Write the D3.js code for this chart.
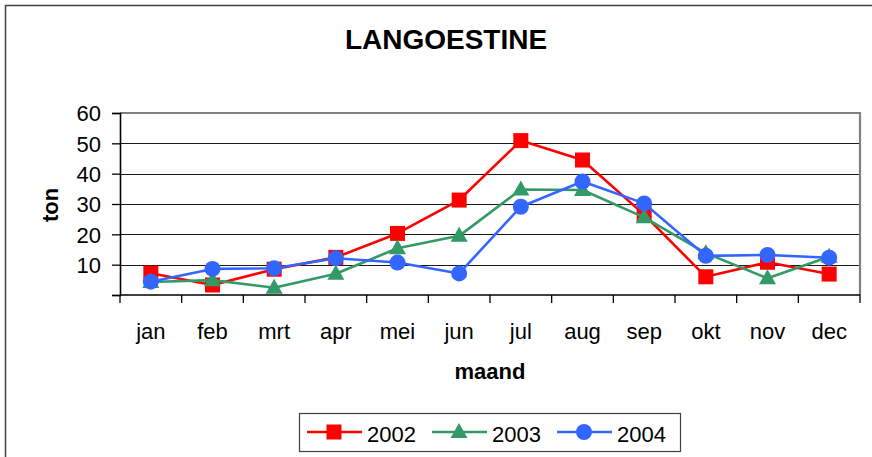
<!DOCTYPE html>
<html><head><meta charset="utf-8">
<script src="https://cdn.jsdelivr.net/npm/d3@7"></script>
<style>body{margin:0;background:#fff}svg{display:block}text{font-family:"Liberation Sans",Arial,sans-serif;fill:#000}</style>
</head><body><svg id="c" width="872" height="457"></svg>
<script>
const months = ["jan","feb","mrt","apr","mei","jun","jul","aug","sep","okt","nov","dec"];
const years = ["2002","2003","2004"];
const v2002 = [7.2, 3.3, 8.5, 12.4, 20.3, 31.3, 50.9, 44.5, 26.5, 6.0, 10.8, 6.9];
const v2003 = [4.3, 4.9, 2.4, 7.0, 15.4, 19.5, 34.8, 34.6, 25.6, 13.8, 5.5, 12.6];
const v2004 = [4.4, 8.6, 8.8, 12.1, 10.7, 7.1, 29.1, 37.4, 30.2, 12.9, 13.2, 12.3];
const yTicks = [0, 10, 20, 30, 40, 50, 60];
const colors = ["#FF0000", "#339966", "#3366FF"];
const shapes = ["square", "triangle", "circle"];

const svg = d3.select("#c");
const L = 120, R = 860, T = 113, B = 295;
const x = d3.scaleBand().domain(months).range([L, R]).padding(0);
const y = d3.scaleLinear().domain([0, 60]).range([B, T]);

// outer frame
svg.append("path").attr("d", "M5.5,460V5.5H880").attr("fill", "none").attr("stroke", "#404040").attr("stroke-width", 1.5);

// title
svg.append("text").attr("x", 446).attr("y", 49).attr("text-anchor", "middle")
  .style("font-size", "28px").style("font-weight", "bold").text("LANGOESTINE");

// gridlines
svg.append("g").selectAll("line").data(yTicks.filter(d => d > 0 && d < 60)).join("line")
  .attr("x1", L).attr("x2", R).attr("y1", d => Math.round(y(d)) + 0.5).attr("y2", d => Math.round(y(d)) + 0.5)
  .attr("stroke", "#1a1a1a").attr("stroke-width", 1.2);
// plot border top/right
svg.append("path").attr("d", `M${L},${y(60)}H${R}V${B}`).attr("fill", "none").attr("stroke", "#808080").attr("stroke-width", 2.2);

// y axis
const yAxis = d3.axisLeft(y).tickValues(yTicks).tickSize(8).tickPadding(11).tickFormat(d => d === 0 ? "" : d);
const gy = svg.append("g").attr("transform", `translate(${L},0)`).call(yAxis);
gy.select(".domain").attr("stroke", "#000").attr("stroke-width", 1.6);
gy.selectAll(".tick line").attr("stroke", "#000").attr("stroke-width", 1.3);
gy.selectAll("text").style("font-size", "22px").attr("font-family", null).attr("dy", "0.36em");

// x axis with ticks at band boundaries
const gx = svg.append("g").attr("transform", `translate(0,${B})`);
gx.append("line").attr("x1", L).attr("x2", R).attr("stroke", "#000").attr("stroke-width", 1.6);
const bounds = months.map(m => x(m)).concat([R]);
gx.selectAll(".tk").data(bounds).join("line").attr("class", "tk")
  .attr("x1", d => d).attr("x2", d => d).attr("y1", 0).attr("y2", 8).attr("stroke", "#000").attr("stroke-width", 1.3);
gx.selectAll(".lb").data(months).join("text").attr("class", "lb")
  .attr("x", d => x(d) + x.bandwidth() / 2).attr("y", 44).attr("text-anchor", "middle")
  .style("font-size", "22px").text(d => d);

// axis titles
svg.append("text").attr("x", 490).attr("y", 379).attr("text-anchor", "middle")
  .style("font-size", "22px").style("font-weight", "bold").text("maand");
svg.append("text").attr("transform", "translate(58,205) rotate(-90)").attr("text-anchor", "middle")
  .style("font-size", "22px").style("font-weight", "bold").text("ton");

// markers
function marker(g, shape, color, cx, cy) {
  if (shape === "square") {
    g.append("rect").attr("x", cx - 7.5).attr("y", cy - 7.5).attr("width", 15).attr("height", 15).attr("fill", color);
  } else if (shape === "triangle") {
    g.append("path").attr("d", `M${cx},${cy - 9}L${cx + 8.5},${cy + 6}L${cx - 8.5},${cy + 6}Z`).attr("fill", color);
  } else {
    g.append("circle").attr("cx", cx).attr("cy", cy).attr("r", 8).attr("fill", color);
  }
}

const series = [v2002, v2003, v2004];
const line = d3.line().x((d, i) => x(months[i]) + x.bandwidth() / 2).y(d => y(d));
series.forEach((vals, si) => {
  const g = svg.append("g");
  g.append("path").datum(vals).attr("d", line).attr("fill", "none")
    .attr("stroke", colors[si]).attr("stroke-width", 2.6).attr("stroke-linejoin", "round");
  vals.forEach((v, i) => marker(g, shapes[si], colors[si], x(months[i]) + x.bandwidth() / 2, y(v)));
});

// legend
const lg = svg.append("g");
lg.append("rect").attr("x", 299.5).attr("y", 413.5).attr("width", 381).attr("height", 38)
  .attr("fill", "#fff").attr("stroke", "#404040").attr("stroke-width", 1.2);
const lx = [307, 432, 557];
years.forEach((yr, i) => {
  const g = lg.append("g");
  g.append("line").attr("x1", lx[i]).attr("x2", lx[i] + 55).attr("y1", 432).attr("y2", 432)
    .attr("stroke", colors[i]).attr("stroke-width", 2.6);
  marker(g, shapes[i], colors[i], lx[i] + 27, 432);
  g.append("text").attr("x", lx[i] + 60).attr("y", 442).style("font-size", "22px").text(yr);
});
</script></body></html>
